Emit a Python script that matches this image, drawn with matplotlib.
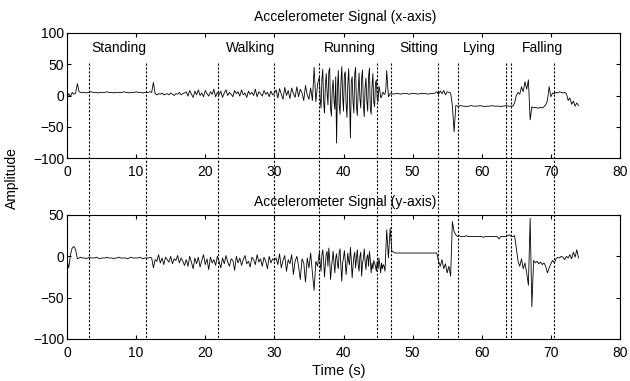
import numpy as np
import matplotlib
matplotlib.use("Agg")
import matplotlib.pyplot as plt
from matplotlib.lines import Line2D
from matplotlib.transforms import blended_transform_factory

plt.rcParams['font.family'] = ['Liberation Sans', 'DejaVu Sans']

# ---- segment start times (s) and sampling step of each segment ----
seg_starts = [0.0, 1.75, 12.5, 13.0, 17.25, 30.25, 36.5, 46.5, 53.25, 55.25, 56.25, 64.25]
seg_steps = [0.25, 0.25, 0.25, 0.25, 0.25, 0.25, 0.125, 0.25, 0.25, 0.25, 0.25, 0.25]

# ---- x-axis accelerometer signal, per segment ----
x_seg0 = [-4, 3, -2, 5, 2, 4, 19]
x_seg1 = [6, 5, 5, 5, 4, 5, 5, 6, 5, 5, 5, 4, 5, 5, 5, 5, 6, 5, 5, 5,
          4, 5, 5, 5, 5, 5, 6, 5, 5, 4, 5, 5, 5, 6, 5, 5, 5, 4, 5, 5, 5, 6, 5]
x_seg2 = [21, 3]
x_seg3 = [1, 3, 2, 4, 1, 2, 3, 1, 4, 2, 0, 3, 2, 5, 1, 3, 4]
x_seg4 = [6, -1, 8, 2, -3, 7, 1, 9, 0, 4, -2, 8, 3, -1, 6, 2, 10, -2, 5, 1,
          7, -3, 4, 9, 0, 5, 2, -2, 8, 3, 6, -1, 9, 1, 4, -3, 7, 2, 5, 0,
          10, -2, 6, 3, -1, 8, 2, 5, -2, 7, 1, 4]
x_seg5 = [9, -4, 11, 2, -6, 13, 0, 8, -5, 12, 3, -3, 14, -2, 10, 4, -8, 16, 1, -6,
          12, -8, 45, -10, 18]
x_seg6 = [30, -5, -20, 25, 42, -10, -28, 15, 35, 5, -15, 38, 44, -20, -33, 10, 25, -8, -22, 30,
          -76, 12, 40, -15, -30, 20, 46, 0, -25, 33, 38, -12, -35, 18, 43, -5, -68, 22, 30, -10,
          -28, 35, 45, -18, -32, 8, 36, -5, -20, 28, 41, -15, -34, 12, 28, -8, -25, 30, 44, -20,
          -30, 15, 35, -10, -18, 20, 25, -5, -10, 15, 8, -3, -3, 4, 5, 2, 2, 10, 40]
x_seg7 = [-2, 3, 3, 2, 3, 3, 3, 2, 3, 3, 3, 3, 2, 3, 3, 3, 3, 2, 3, 3,
          3, 3, 3, 2, 3, 3, 3]
x_seg8 = [4, 6, 2, 7, 3, 8, 1, 6]
x_seg9 = [5, 4, -16, -58]
x_seg10 = [-16, -17, -17, -16, -17, -17, -18, -17, -17, -16, -17, -17, -17, -17, -16, -17,
           -17, -18, -17, -17, -17, -16, -17, -17, -17, -17, -18, -17, -17, -16, -17, -17]
x_seg11 = [-17, -17, -12, 0, 5, 2, 14, 6, 22, 10, 25, -39, -18,
           -20, -19, -20, -20, -19, -20, -18,
           -15, -8, 14, -2, 4, 3, 5, 4, 6, 5, 4, 5, 3, -8, -4, -14, -9, -17, -12, -16]

# ---- y-axis accelerometer signal, per segment ----
y_seg0 = [-5, -14, 2, 10, 12, 8, -3]
y_seg1 = [-2, -1, -2, -2, -3, -2, -1, -2, -2, -2, -1, -2, -3, -2, -2, -2, -1, -2, -2, -2,
          -3, -2, -2, -1, -2, -2, -2, -2, -3, -2, -1, -2, -2, -2, -2, -1, -2, -3, -2, -2,
          -2, -1, -2]
y_seg2 = [-14, -4]
y_seg3 = [-6, 2, -8, -2, -10, -1, -4, -7, 0, -9, -3, -5, 1, -8, -2, -6, -11]
y_seg4 = [-4, -12, 0, -7, -15, -2, -9, -1, -13, -5, 2, -10, -3, -16, -1, -8, -4, -11, 0, -6,
          -14, -2, -9, 1, -7, -12, -3, -5, -17, 0, -8, -2, -11, -4, 1, -9, -6, -13, -1, -4,
          -10, 2, -7, -3, -12, -1, -6, -15, 0, -8, -3, -5]
y_seg5 = [-2, -10, 3, -14, -5, 1, -18, -4, -9, 2, -22, -6, 0, -12, -28, -3, -8, -31, -2, -14,
          4, -20, -41, -6, -12]
y_seg6 = [5, -8, -18, 2, 8, -5, -25, -10, 2, 6, -12, 10, -4, -28, -15, -4, 6, -8, -20, -2,
          3, -10, -15, 5, 9, -12, -30, -8, -2, 7, -5, -22, -10, 4, -6, -10, 11, -4, -26, -12,
          0, 5, -14, -2, 8, -10, -18, 0, 5, -24, -8, -3, 9, -6, -16, -2, 2, -12, 6, -4,
          -20, -8, -15, -5, -8, -12, -18, -6, -15, -2, -10, -20, -8, -15, -10, -12, -18, 8, 32]
y_seg7 = [-2, 34, 6, 5, 4, 4, 4, 4, 4, 4, 4, 4, 4, 4, 4, 4, 4, 4, 4, 4,
          4, 4, 4, 4, 4, 4, 4]
y_seg8 = [4, 4, -6, -12, -4, -15, -9, -20]
y_seg9 = [-12, -24, 42, 30]
y_seg10 = [26, 24, 25, 24, 24, 24, 25, 24, 24, 24, 24, 24, 24, 24, 24, 24,
           23, 24, 24, 24, 24, 24, 24, 24, 24, 21, 24, 24, 24, 24, 25, 26]
y_seg11 = [24, 24, 25, 10, -6, -12, -3, -15, -8, -20, -35, 46, -61,
           -5, -8, -6, -9, -7, -10, -8,
           -12, -20, -14, -9, -5, -8, -3, -1, -2, 0, -1, -4, 0, -2, 2, -3, 5, -1, 8, -2]

x_segments = [x_seg0, x_seg1, x_seg2, x_seg3, x_seg4, x_seg5, x_seg6, x_seg7, x_seg8, x_seg9, x_seg10, x_seg11]
y_segments = [y_seg0, y_seg1, y_seg2, y_seg3, y_seg4, y_seg5, y_seg6, y_seg7, y_seg8, y_seg9, y_seg10, y_seg11]

# ---- activity boundaries and labels ----
boundaries = [3.2, 11.4, 21.8, 30.0, 36.5, 44.9, 46.8, 53.6, 56.6, 63.5, 64.3, 70.5]
activities = ["Standing", "Walking", "Running", "Sitting", "Lying", "Falling"]
activity_pos = [7.5, 26.6, 40.9, 50.9, 59.7, 68.8]

x_ticks = [0, 10, 20, 30, 40, 50, 60, 70, 80]
top_yticks = [-100, -50, 0, 50, 100]
bot_yticks = [-100, -50, 0, 50]


def build(segments):
    t_parts, v_parts = [], []
    for start, step, vals in zip(seg_starts, seg_steps, segments):
        t_parts.append(start + step * np.arange(len(vals)))
        v_parts.append(np.asarray(vals, dtype=float))
    return np.concatenate(t_parts), np.concatenate(v_parts)


tx, vx = build(x_segments)
ty, vy = build(y_segments)

W, H = 630, 381
fig = plt.figure(figsize=(W / 100, H / 100), dpi=100)
ax1 = fig.add_axes([67 / W, 1 - 158 / H, 553 / W, 125 / H])
ax2 = fig.add_axes([67 / W, 1 - 339 / H, 553 / W, 124 / H])

for ax, t, v, yt, ylim in [(ax1, tx, vx, top_yticks, (-100, 100)),
                           (ax2, ty, vy, bot_yticks, (-100, 50))]:
    ax.plot(t, v, color='black', lw=0.6)
    ax.set_xlim(0, 80)
    ax.set_ylim(*ylim)
    ax.set_xticks(x_ticks)
    ax.set_yticks(yt)
    ax.tick_params(direction='in', top=True, right=True, length=3, width=0.8,
                   labelsize=10)
    ax.tick_params(axis='x', pad=5)
    ax.tick_params(axis='y', pad=2)
    for s in ax.spines.values():
        s.set_linewidth(0.8)

for name, p in zip(activities, activity_pos):
    ax1.text(p, 76, name, ha='center', va='center', fontsize=10)

trans = blended_transform_factory(ax2.transData, fig.transFigure)
for b in boundaries:
    fig.add_artist(Line2D([b, b], [1 - 63 / H, 1 - 339 / H], transform=trans,
                          color='black', lw=0.8, linestyle=(0, (2, 1.5))))

fig.text(345 / W, 1 - 17 / H, "Accelerometer Signal (x-axis)", ha='center', va='center', fontsize=10)
fig.text(345 / W, 1 - 202 / H, "Accelerometer Signal (y-axis)", ha='center', va='center', fontsize=10)
fig.text(339 / W, 1 - 371 / H, "Time (s)", ha='center', va='center', fontsize=10.5)
fig.text(12 / W, 1 - 178 / H, "Amplitude", ha='center', va='center', rotation=90, fontsize=10)

fig.savefig("out.png", dpi=100)
